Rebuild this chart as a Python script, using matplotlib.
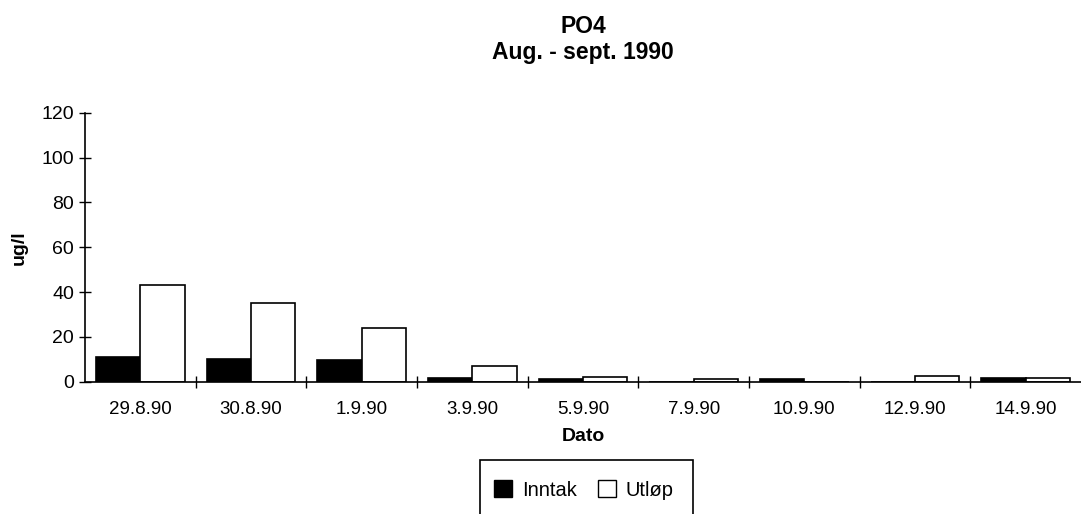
import numpy as np
import matplotlib.pyplot as plt
from matplotlib.patches import Rectangle, Patch

plt.rcParams['font.family'] = ['Liberation Sans', 'DejaVu Sans']

# Data
dates = ['29.8.90', '30.8.90', '1.9.90', '3.9.90', '5.9.90',
         '7.9.90', '10.9.90', '12.9.90', '14.9.90']
inntak = [11, 10, 9.8, 1.5, 1, 0, 1, 0, 1.5]
utlop = [43, 35, 24, 7, 2, 1, 0, 2.5, 1.5]

fig = plt.figure(figsize=(10.81, 5.14), dpi=100)
ax = fig.add_axes([85 / 1081, 1 - 381.7 / 514, 996 / 1081, 269 / 514])

x = np.arange(len(dates))
w = 0.4
ax.bar(x - w / 2, inntak, w, color='black', edgecolor='black', linewidth=1.2, label='Inntak')
ax.bar(x + w / 2, utlop, w, color='white', edgecolor='black', linewidth=1.2, label='Utløp')

ax.set_xlim(-0.5, len(dates) - 0.5)
ax.set_ylim(0, 120)
ax.set_yticks(range(0, 121, 20))
ax.set_xticks(x)
ax.set_xticklabels(dates, fontsize=13.5)
ax.set_xticks(x[1:] - 0.5, minor=True)
ax.tick_params(axis='x', which='major', length=0, pad=14)
ax.tick_params(axis='x', which='minor', direction='inout', length=8, width=1)
ax.tick_params(axis='y', direction='inout', length=8, width=1, labelsize=14, pad=4)

for s in ['top', 'right']:
    ax.spines[s].set_visible(False)
ax.spines['left'].set_linewidth(1.2)
ax.spines['bottom'].set_linewidth(1.2)

ax.set_ylabel('ug/l', fontsize=14, fontweight='bold', labelpad=10)
ax.set_xlabel('Dato', fontsize=14, fontweight='bold', labelpad=7)
ax.set_title('PO4\nAug. - sept. 1990', fontsize=16.5, fontweight='bold', pad=39, linespacing=1.15)

# legend, box runs off the bottom of the page as in the scan
handles = [Patch(facecolor='black', edgecolor='black'),
           Patch(facecolor='white', edgecolor='black')]
fig.legend(handles, ['Inntak', 'Utløp'], loc='center', bbox_to_anchor=(584 / 1081, 1 - 490 / 514),
           ncol=2, frameon=False, fontsize=14.5, handlelength=0.9, handleheight=0.9,
           handletextpad=0.5, columnspacing=1.0)
fig.patches.append(Rectangle((480 / 1081, -0.05), 213 / 1081, (514 - 460) / 514 + 0.05,
                             transform=fig.transFigure, fill=False, edgecolor='black', linewidth=1.2))

fig.savefig('out.png', dpi=100)
